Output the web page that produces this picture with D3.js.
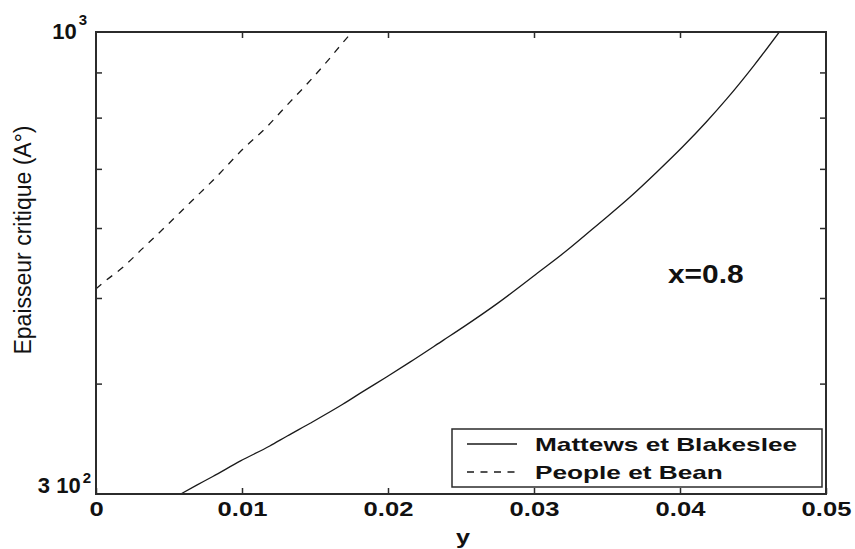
<!DOCTYPE html>
<html>
<head>
<meta charset="utf-8">
<script src="https://cdn.jsdelivr.net/npm/d3@7/dist/d3.min.js"></script>
<style>
  body { margin: 0; background: #fff; }
  svg { display: block; }
  text { font-family: "Liberation Sans", Arial, Helvetica, sans-serif; fill: #111; }
</style>
</head>
<body>
<svg id="chart" width="855" height="549"></svg>
<script>
// Germanium fraction y on the horizontal axis
const xTickValues = [0, 0.01, 0.02, 0.03, 0.04, 0.05];
const xTickLabels = ["0", "0.01", "0.02", "0.03", "0.04", "0.05"];
// Unlabelled log ticks of the thickness axis
const yMinorTicks = [400, 500, 600, 700, 800, 900];

// Critical thickness, Matthews & Blakeslee model
const mbY = [0.0058, 0.0069, 0.0080, 0.0099, 0.0119, 0.0131, 0.0147, 0.0169, 0.0183, 0.0199,
             0.0215, 0.0238, 0.0252, 0.0275, 0.0304, 0.0322, 0.0345, 0.0366, 0.0384, 0.0402,
             0.0418, 0.0432, 0.0451, 0.0468];
const mbH = [300, 307, 314, 327, 340, 349, 361, 379, 392, 407,
             423, 448, 464, 493, 536, 565, 608, 651, 694, 742,
             791, 840, 918, 1000];

// Critical thickness, People & Bean model
const pbY = [0, 0.0006, 0.0018, 0.0032, 0.0048, 0.0064, 0.0080, 0.0101, 0.0117, 0.0131,
             0.0145, 0.0158, 0.0171, 0.01755];
const pbH = [512, 522, 541, 569, 603, 640, 679, 738, 781, 827,
             875, 925, 981, 1000];

const seriesNames = ["Mattews et Blakeslee", "People et Bean"];

const svg = d3.select("#chart");
const margin = { left: 96, right: 29, top: 32, bottom: 55 };
const W = 855, H = 549;
const x = d3.scaleLinear().domain([0, 0.05]).range([margin.left, W - margin.right]);
const y = d3.scaleLog().domain([300, 1000]).range([H - margin.bottom, margin.top]);

const axisColor = "#2b2b2b";

svg.append("defs").append("clipPath").attr("id", "plot-clip")
  .append("rect")
  .attr("x", x(0)).attr("y", y(1000))
  .attr("width", x(0.05) - x(0)).attr("height", y(300) - y(1000));

// Curves
const line = d3.line().x(d => x(d[0])).y(d => y(d[1])).curve(d3.curveMonotoneX);
const mbData = mbY.map((v, i) => [v, mbH[i]]);
const pbData = pbY.map((v, i) => [v, pbH[i]]);

const plot = svg.append("g").attr("clip-path", "url(#plot-clip)");
plot.append("path").datum(mbData).attr("d", line)
  .attr("fill", "none").attr("stroke", "#1a1a1a").attr("stroke-width", 1.3);
plot.append("path").datum(pbData).attr("d", line)
  .attr("fill", "none").attr("stroke", "#1a1a1a").attr("stroke-width", 1.3)
  .attr("stroke-dasharray", "7,7");

// Axes with inward ticks on all four sides
function styleAxis(g) {
  g.select(".domain").remove();
  g.selectAll(".tick line").attr("stroke", axisColor).attr("stroke-width", 1.5);
}
svg.append("g").attr("transform", `translate(0,${y(300)})`)
  .call(d3.axisBottom(x).tickValues(xTickValues)
    .tickFormat((d, i) => xTickLabels[i]).tickSizeInner(-6).tickSizeOuter(0).tickPadding(8))
  .call(styleAxis)
  .call(g => g.selectAll("text")
    .attr("font-size", 20).attr("font-weight", "bold")
    .attr("transform", "scale(1.28,1)").attr("fill", "#111")
    .style("font-family", "'Liberation Sans', Arial, sans-serif"));
svg.append("g").attr("transform", `translate(0,${y(1000)})`)
  .call(d3.axisTop(x).tickValues(xTickValues.slice(1, -1)).tickFormat("")
    .tickSizeInner(-6).tickSizeOuter(0))
  .call(styleAxis);
svg.append("g").attr("transform", `translate(${x(0)},0)`)
  .call(d3.axisLeft(y).tickValues(yMinorTicks).tickFormat("")
    .tickSizeInner(-6).tickSizeOuter(0))
  .call(styleAxis);
svg.append("g").attr("transform", `translate(${x(0.05)},0)`)
  .call(d3.axisRight(y).tickValues(yMinorTicks).tickFormat("")
    .tickSizeInner(-6).tickSizeOuter(0))
  .call(styleAxis);

// Frame
svg.append("rect")
  .attr("x", x(0)).attr("y", y(1000))
  .attr("width", x(0.05) - x(0)).attr("height", y(300) - y(1000))
  .attr("fill", "none").attr("stroke", axisColor).attr("stroke-width", 2);

// Labels for the ends of the log axis
function powerLabel(value, base, exp, right, baseShift, supRise) {
  const t = svg.append("text")
    .attr("x", x(0) - right).attr("y", y(value) + baseShift)
    .attr("text-anchor", "end").attr("font-size", 22).attr("font-weight", "bold");
  t.append("tspan").text(base);
  t.append("tspan").attr("font-size", 15).attr("dy", -supRise).attr("dx", 2).text(exp);
}
powerLabel(1000, "10", "3", 9, 7, 14);
powerLabel(300, "3 10", "2", 5, -1, 10);

// Axis titles
svg.append("text")
  .attr("transform", `translate(${(x(0) + x(0.05)) / 2 + 2},${H - 5}) scale(1.2,1)`)
  .attr("text-anchor", "middle").attr("font-size", 21).attr("font-weight", "bold")
  .text("y");
svg.append("text")
  .attr("transform", `translate(31,240) rotate(-90) scale(1,1.05)`)
  .attr("text-anchor", "middle").attr("font-size", 23)
  .text("Epaisseur critique (A°)");

// Annotation
svg.append("text")
  .attr("transform", "translate(668,283) scale(1.15,1)")
  .attr("font-size", 26).attr("font-weight", "bold")
  .text("x=0.8");

// Legend
const legend = svg.append("g");
legend.append("rect")
  .attr("x", 452).attr("y", 429).attr("width", 370).attr("height", 58)
  .attr("fill", "#fff").attr("stroke", axisColor).attr("stroke-width", 1.5);
const dashes = [null, "7,6.5"];
const rowY = [444, 472];
seriesNames.forEach((name, i) => {
  legend.append("line")
    .attr("x1", 467).attr("x2", 517).attr("y1", rowY[i]).attr("y2", rowY[i])
    .attr("stroke", "#1a1a1a").attr("stroke-width", 1.3)
    .attr("stroke-dasharray", dashes[i]);
  legend.append("text")
    .attr("transform", `translate(535,${rowY[i] + 7}) scale(1.38,1)`)
    .attr("font-size", 19).attr("font-weight", "bold")
    .text(name);
});
</script>
</body>
</html>
